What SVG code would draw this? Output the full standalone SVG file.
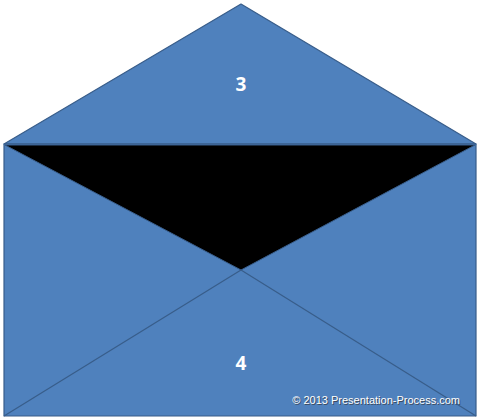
<svg xmlns="http://www.w3.org/2000/svg" width="480" height="420" viewBox="0 0 480 420">
<style>
.shape{fill:#4f81bd;stroke:#385d8a;stroke-width:1.2;stroke-linejoin:round}
.line{fill:none;stroke:#385d8a;stroke-width:1.2}
.num{font-family:"Open Sans","Liberation Sans",sans-serif;font-weight:bold;font-size:19px;fill:#ffffff;text-anchor:middle}
.copy{font-family:"Liberation Sans",Arial,sans-serif;font-size:11px;fill:#ffffff;text-anchor:end}
.shadow{fill:#3a4a5e}
</style>
<rect width="480" height="420" fill="#ffffff"/>
<g id="flap">
<polygon class="shape" points="241,4 4,144 476,144"/>
<text class="num" x="241" y="91">3</text>
</g>
<g id="body">
<rect class="shape" x="4" y="144" width="472" height="272"/>
</g>
<g id="opening">
<polygon points="5,145 475,145 241,270" fill="#000000" stroke="#385d8a" stroke-width="1"/>
</g>
<g id="connectors">
<line class="line" x1="4" y1="416" x2="241" y2="270"/>
<line class="line" x1="476" y1="416" x2="241" y2="270"/>
</g>
<g id="front">
<text class="num" x="241" y="370">4</text>
<text class="copy shadow" x="461" y="405">© 2013 Presentation-Process.com</text>
<text class="copy" x="460" y="404">© 2013 Presentation-Process.com</text>
</g>
</svg>
